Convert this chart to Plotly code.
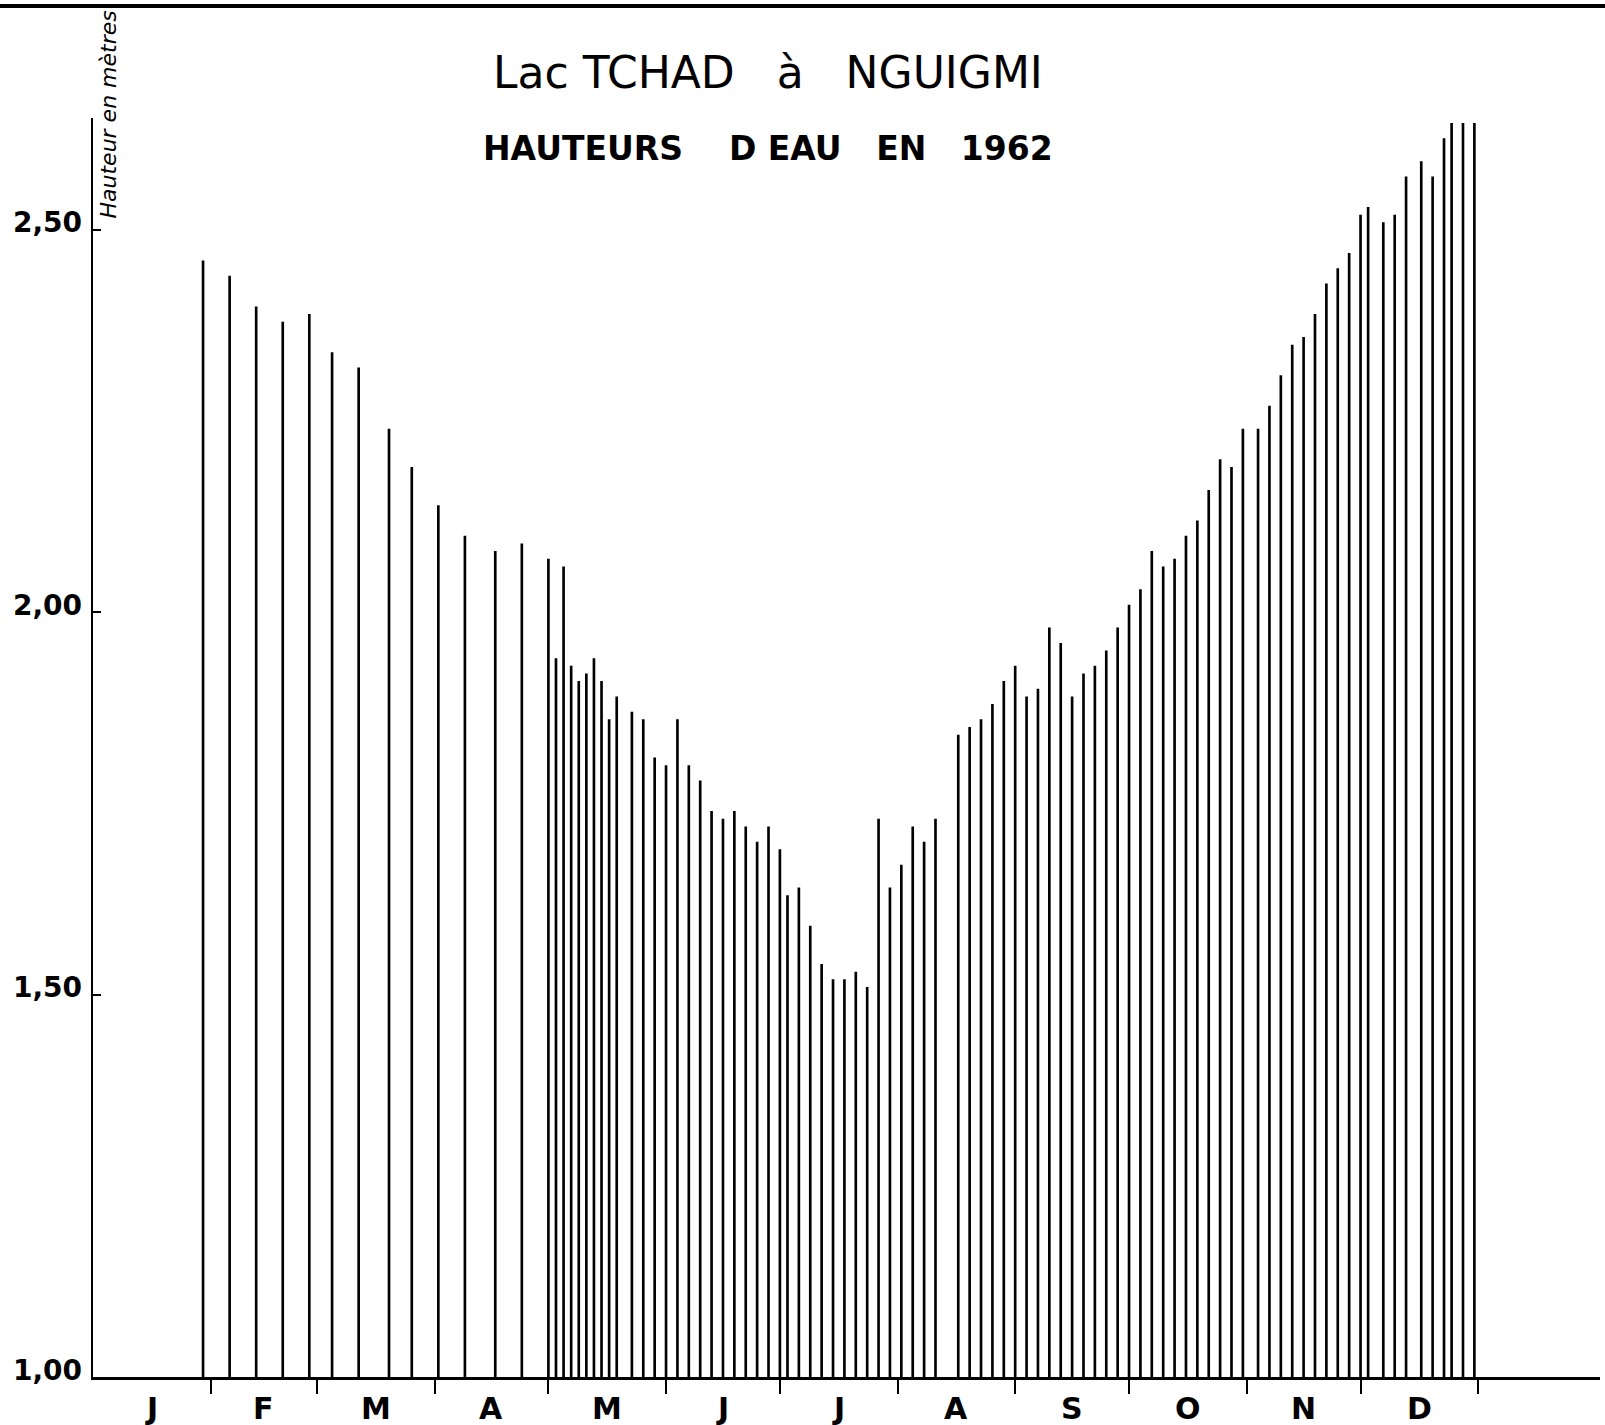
import plotly.graph_objects as go

# jour de l'année (0 = 1er janvier 1962) de chaque relevé
jours = [29, 36, 43, 50, 57, 63, 70, 78, 84, 91,
         98, 106, 113, 120, 122, 124, 126, 128, 130, 132,
         134, 136, 138, 142, 145, 148, 151, 154, 157, 160,
         163, 166, 169, 172, 175, 178, 181, 183, 186, 189,
         192, 195, 198, 201, 204, 207, 210, 213, 216, 219,
         222, 228, 231, 234, 237, 240, 243, 246, 249, 252,
         255, 258, 261, 264, 267, 270, 273, 276, 279, 282,
         285, 288, 291, 294, 297, 300, 303, 307, 310, 313,
         316, 319, 322, 325, 328, 331, 334, 336, 340, 343,
         346, 350, 353, 356, 358, 361, 364]

# hauteur d'eau en mètres
hauteurs = [2.46, 2.44, 2.40, 2.38, 2.39, 2.34, 2.32, 2.24, 2.19, 2.14,
            2.10, 2.08, 2.09, 2.07, 1.94, 2.06, 1.93, 1.91, 1.92, 1.94,
            1.91, 1.86, 1.89, 1.87, 1.86, 1.81, 1.80, 1.86, 1.80, 1.78,
            1.74, 1.73, 1.74, 1.72, 1.70, 1.72, 1.69, 1.63, 1.64, 1.59,
            1.54, 1.52, 1.52, 1.53, 1.51, 1.73, 1.64, 1.67, 1.72, 1.70,
            1.73, 1.84, 1.85, 1.86, 1.88, 1.91, 1.93, 1.89, 1.90, 1.98,
            1.96, 1.89, 1.92, 1.93, 1.95, 1.98, 2.01, 2.03, 2.08, 2.06,
            2.07, 2.10, 2.12, 2.16, 2.20, 2.19, 2.24, 2.24, 2.27, 2.31,
            2.35, 2.36, 2.39, 2.43, 2.45, 2.47, 2.52, 2.53, 2.51, 2.52,
            2.57, 2.59, 2.57, 2.62, 2.64, 2.64, 2.64]

mois = ["J", "F", "M", "A", "M", "J", "J", "A", "S", "O", "N", "D"]
debuts_mois = [0, 31, 59, 90, 120, 151, 181, 212, 243, 273, 304, 334, 365]
graduations_y = [1.0, 1.5, 2.0, 2.5]

milieux = [(a + b) / 2 for a, b in zip(debuts_mois[:-1], debuts_mois[1:])]

W, H = 1605, 1425
L, R, T, B = 93, 5, 118, 48
plot_w = W - L - R
plot_h = H - T - B
px_jour = 3.795
y_bas, y_haut = 1.0, 1.0 + plot_h / 764.7

fig = go.Figure(go.Bar(
    x=jours, y=hauteurs, width=0.7,
    marker=dict(color="black", line=dict(width=0)),
    hoverinfo="x+y",
))

fig.update_layout(
    width=W, height=H,
    margin=dict(l=L, r=R, t=T, b=B, autoexpand=False),
    paper_bgcolor="white", plot_bgcolor="white",
    showlegend=False,
)

fig.update_xaxes(
    range=[0, plot_w / px_jour],
    automargin=False,
    showgrid=False, zeroline=False,
    showline=True, linecolor="black", linewidth=3,
    tickvals=debuts_mois[1:], showticklabels=False,
    ticks="outside", ticklen=14, tickwidth=2, tickcolor="black",
)

fig.update_yaxes(
    range=[y_bas, y_haut],
    automargin=False,
    showgrid=False, zeroline=False,
    showline=True, linecolor="black", linewidth=2,
    tickvals=graduations_y, showticklabels=False,
    ticks="inside", ticklen=8, tickwidth=2, tickcolor="black",
)

# initiales des mois, au milieu de chaque mois
for m, lettre in zip(milieux, mois):
    fig.add_annotation(
        text=lettre, xref="x", yref="paper", x=m, y=0, yshift=-31,
        showarrow=False, xanchor="center", yanchor="middle",
        font=dict(family="DejaVu Sans", size=30, color="black", weight="bold"),
    )

# libellés de l'axe vertical, un peu au-dessus des graduations comme sur l'original
for v in graduations_y:
    fig.add_annotation(
        text=f"{v:.2f}".replace(".", ","),
        xref="paper", yref="y", x=0, y=v, xshift=-9, yshift=7,
        showarrow=False, xanchor="right", yanchor="middle",
        font=dict(family="DejaVu Sans", size=28, color="black", weight="bold"),
    )

def py(ypix):
    # position verticale en fraction du papier à partir d'un pixel de la page
    return (H - B - ypix) / plot_h

def px(xpix):
    return (xpix - L) / plot_w

nbsp = "\u00a0"
fig.add_annotation(
    text=f"Lac TCHAD{nbsp*3}à{nbsp*3}NGUIGMI",
    xref="paper", yref="paper", x=px(768), y=py(72),
    showarrow=False, xanchor="center", yanchor="middle",
    font=dict(family="DejaVu Sans", size=44, color="black"),
)
fig.add_annotation(
    text=f"HAUTEURS{nbsp*4}D{nbsp}EAU{nbsp*3}EN{nbsp*3}1962",
    xref="paper", yref="paper", x=px(768), y=py(149),
    showarrow=False, xanchor="center", yanchor="middle",
    font=dict(family="DejaVu Sans", size=33, color="black", weight="bold"),
)
fig.add_annotation(
    text="Hauteur en mètres",
    xref="paper", yref="paper", x=0, y=py(115), xshift=1,
    showarrow=False, xanchor="left", yanchor="middle", textangle=-90,
    font=dict(family="DejaVu Sans", size=22, color="black", style="italic"),
)

# trait du cadre en haut de la planche
fig.add_shape(
    type="line", xref="paper", yref="paper",
    x0=px(0), x1=px(W), y0=py(6), y1=py(6),
    line=dict(color="black", width=4),
)

# la page HTML a une marge de 8 px par défaut : on la supprime
fig.write_html(
    "out.html",
    config={"displayModeBar": False},
    post_script="document.body.style.margin='0';document.body.style.overflow='hidden';",
)
